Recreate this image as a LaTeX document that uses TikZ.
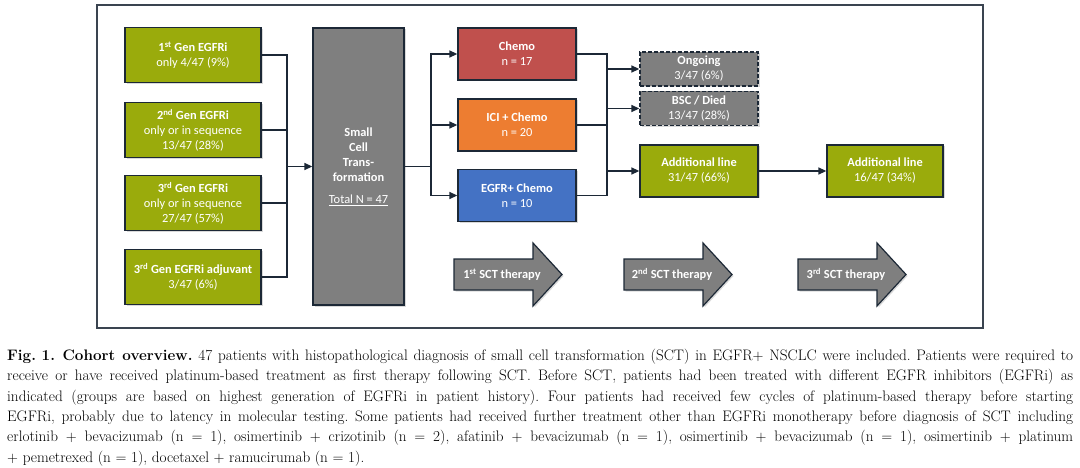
\documentclass[tikz,border=0pt]{standalone}
\usepackage{fontspec}
\usepackage{tikz}
\usetikzlibrary{arrows.meta,shadows}
\newfontfamily\boxfont{Carlito}
\definecolor{egfrgreen}{RGB}{154,171,12}
\definecolor{chemored}{RGB}{192,80,77}
\definecolor{iciorange}{RGB}{237,125,49}
\definecolor{egfrblue}{RGB}{68,114,196}
\definecolor{boxgray}{RGB}{127,127,127}
\definecolor{edgeblue}{RGB}{28,40,54}
\definecolor{framegray}{RGB}{58,68,80}

\begin{document}
\begin{tikzpicture}
				[x=1pt,y=-1pt,
				every node/.style={font=\boxfont\fontsize{12.4}{15}\selectfont,text=white,align=center,inner sep=2pt},
				box/.style={draw=edgeblue,line width=1.3pt,minimum width=118pt,minimum height=52pt,
					drop shadow={shadow xshift=1.5pt,shadow yshift=-1.5pt,opacity=.3}},
				genbox/.style={box,fill=egfrgreen,minimum width=136pt,minimum height=55pt},
				endbox/.style={box,fill=boxgray,dash pattern=on 4pt off 2pt,minimum height=34pt},
				line/.style={draw=edgeblue,line width=1.3pt},
				arr/.style={line,-{Triangle[length=8pt,width=7pt]}},
				bigarrow/.style={fill=boxgray,draw=edgeblue,line width=1.2pt,
					drop shadow={shadow xshift=1.5pt,shadow yshift=-1.5pt,opacity=.3}},
				caption/.style={font=\fontsize{15.2}{20.3}\selectfont\frenchspacing,text=black,align=justify,
					text width=1066pt,inner sep=0pt,anchor=north west}]
				\useasboundingbox (0,0) rectangle (1080,468);
				\draw[framegray,line width=2pt] (97,5) rectangle (983,328);
				
				% EGFRi before SCT
				\node[genbox] (g1) at (193,55)  {\textbf{1\textsuperscript{st} Gen EGFRi}\\only 4/47 (9\%)};
				\node[genbox] (g2) at (193,130) {\textbf{2\textsuperscript{nd} Gen EGFRi}\\only or in sequence\\13/47 (28\%)};
				\node[genbox] (g3) at (193,203) {\textbf{3\textsuperscript{rd} Gen EGFRi}\\only or in sequence\\27/47 (57\%)};
				\node[genbox] (g4) at (193,277) {\textbf{3\textsuperscript{rd} Gen EGFRi adjuvant}\\3/47 (6\%)};
				\node[box,fill=boxgray,minimum width=91pt,minimum height=277pt] (sct) at (358.5,166.5)
					{\textbf{Small}\\\textbf{Cell}\\\textbf{Trans-}\\\textbf{formation}\\[7pt]\underline{Total N = 47}};
				
				% therapies
				\node[box,fill=chemored]  (chemo) at (517,54)  {\textbf{Chemo}\\n = 17};
				\node[box,fill=iciorange] (ici)   at (517,125) {\textbf{ICI + Chemo}\\n = 20};
				\node[box,fill=egfrblue]  (egfr)  at (517,195.5) {\textbf{EGFR+ Chemo}\\n = 10};
				\node[endbox] (ongoing) at (699,69)    {\textbf{Ongoing}\\3/47 (6\%)};
				\node[endbox] (bsc)     at (699,108.5) {\textbf{BSC / Died}\\13/47 (28\%)};
				\node[box,fill=egfrgreen] (add1) at (699,171) {\textbf{Additional line}\\31/47 (66\%)};
				\node[box,fill=egfrgreen,minimum width=116pt] (add2) at (885,171) {\textbf{Additional line}\\16/47 (34\%)};
				
				\coordinate (jn) at (287,166.5);
				\coordinate (sp) at (431,166.5);
				\coordinate (mg) at (607,0);
				\foreach \g in {g1,g2,g3,g4}
				\draw[line] (\g.east) -| (jn);
				\draw[arr] (jn) -- (sct);
				\draw[line] (sct.east |- sp) -- (sp);
				\foreach \t in {chemo,ici,egfr}
				\draw[arr] (sp) |- (\t);
				\draw[line] (chemo.east) -| (mg |- egfr.east) -- (egfr.east);
				\draw[line] (ici.east) -- (ici.east -| mg);
				\foreach \o in {ongoing,bsc,add1}
				\draw[arr] (\o.west -| mg) -- (\o.west);
				\draw[arr] (add1) -- (add2);
				
				% therapy lines
				\foreach \x/\n/\lab in {454/s1/1\textsuperscript{st},624/s2/2\textsuperscript{nd},798/s3/3\textsuperscript{rd}}{
					\filldraw[bigarrow] (\x,259) -- ++(79,0) -- ++(0,-16) -- (\x+108,274.5) -- (\x+79,306) -- ++(0,-16) -- (\x,290) -- cycle;
					\node (\n) at (\x+48,274.5) {\textbf{\lab{} SCT therapy}};
				}
				
				\node[caption] (cap) at (7,349) {\textbf{\hbox{Fig. 1.}\enspace Cohort overview.} 47 patients with histopathological diagnosis of small cell transformation (SCT) in EGFR$+$ NSCLC were included. Patients were required to\linebreak
					receive or have received platinum-based treatment as first therapy following SCT. Before SCT, patients had been treated with different EGFR inhibitors (EGFRi) as\linebreak
					indicated (groups are based on highest generation of EGFRi in patient history). Four patients had received few cycles of platinum-based therapy before starting\linebreak
					EGFRi, probably due to latency in molecular testing. Some patients had received further treatment other than EGFRi monotherapy before diagnosis of SCT including\linebreak
					erlotinib $+$ bevacizumab (n $=$ 1), osimertinib $+$ crizotinib (n $=$ 2), afatinib $+$ bevacizumab (n $=$ 1), osimertinib $+$ bevacizumab (n $=$ 1), osimertinib $+$ platinum\linebreak
					$+$ pemetrexed (n $=$ 1), docetaxel $+$ ramucirumab (n $=$ 1).};
				\end{tikzpicture}
\end{document}
